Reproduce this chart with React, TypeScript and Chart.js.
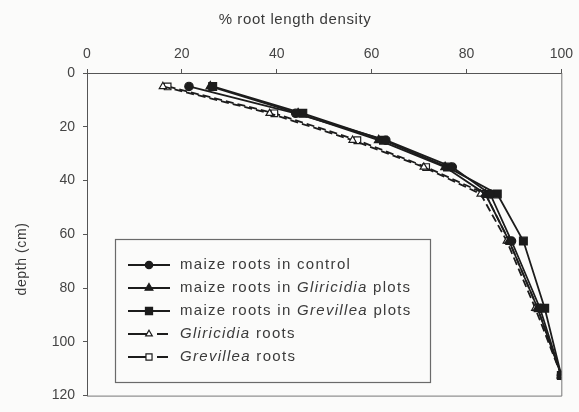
import React, { useEffect, useRef } from "react";
import { Chart, registerables } from "chart.js";
Chart.register(...registerables);

// depth (cm) of each sampled layer (mid-points)
const depths = [5, 15, 25, 35, 45, 62.5, 87.5, 112.5];
// % cumulative root length density
const maizeControl = [21.5, 44, 63, 77, 85, 89.5, 95.5, 100];
const maizeGliricidia = [26, 44.5, 61.5, 75.5, 84, 89, 95, 100];
const maizeGrevillea = [26.5, 45.5, 62.5, 76, 86.5, 92, 96.5, 100];
const gliricidiaRoots = [16, 38.5, 56, 71, 83, 88.5, 94.5, 100];
const grevilleaRoots = [17, 39.5, 57, 71.5, 84, 89, 95, 100];

const xTitle = "% root length density";
const yTitle = "depth (cm)";

type Part = { t: string; it: boolean };
const legendItems: { parts: Part[]; style: string; open: boolean; dashed: boolean }[] = [
  { parts: [{ t: "maize roots in control", it: false }], style: "circle", open: false, dashed: false },
  { parts: [{ t: "maize roots in ", it: false }, { t: "Gliricidia", it: true }, { t: " plots", it: false }], style: "triangle", open: false, dashed: false },
  { parts: [{ t: "maize roots in ", it: false }, { t: "Grevillea", it: true }, { t: " plots", it: false }], style: "rect", open: false, dashed: false },
  { parts: [{ t: "Gliricidia", it: true }, { t: " roots", it: false }], style: "triangle", open: true, dashed: true },
  { parts: [{ t: "Grevillea", it: true }, { t: " roots", it: false }], style: "rect", open: true, dashed: true },
];

const INK = "#1c1c1c";
const FONT = "'Liberation Sans', Arial, sans-serif";

function radiusFor(style: string) {
  if (style === "rect") return 5.5;
  if (style === "triangle") return 5;
  return 4.2;
}

export default function App() {
  const ref = useRef<HTMLCanvasElement | null>(null);
  useEffect(() => {
    if (!ref.current) return;
    const seriesValues = [maizeControl, maizeGliricidia, maizeGrevillea, gliricidiaRoots, grevilleaRoots];
    const datasets = seriesValues.map((vals, k) => {
      const li = legendItems[k];
      const r = radiusFor(li.style);
      return {
        label: li.parts.map((p) => p.t).join(""),
        data: depths.map((d, i) => ({ x: vals[i], y: d })),
        showLine: true,
        borderColor: INK,
        borderWidth: 1.8,
        borderDash: li.dashed ? [8, 4] : [],
        backgroundColor: li.open ? "#ffffff" : INK,
        pointStyle: li.style as any,
        pointRadius: li.open ? r - 0.8 : r,
        pointBorderColor: INK,
        pointBorderWidth: 1.2,
        pointBackgroundColor: li.open ? "#ffffff" : INK,
      };
    });

    const deco = {
      id: "deco",
      beforeDraw(chart: any) {
        const c = chart.ctx;
        c.save();
        c.fillStyle = "#fbfbfa";
        c.fillRect(0, 0, chart.width, chart.height);
        c.restore();
      },
      afterDraw(chart: any) {
        const c = chart.ctx as CanvasRenderingContext2D;
        const a = chart.chartArea;
        c.save();
        // box right & bottom
        c.strokeStyle = "#777";
        c.lineWidth = 1;
        c.beginPath();
        c.moveTo(a.right + 0.5, a.top);
        c.lineTo(a.right + 0.5, a.bottom + 0.5);
        c.lineTo(a.left, a.bottom + 0.5);
        c.stroke();
        // titles
        c.fillStyle = "#3a3a3a";
        c.font = `15px ${FONT}`;
        (c as any).letterSpacing = "0.6px";
        c.textAlign = "center";
        c.textBaseline = "middle";
        c.fillText(xTitle, 295, 20);
        c.save();
        c.translate(22, 259);
        c.rotate(-Math.PI / 2);
        c.font = `14px ${FONT}`;
        c.fillText(yTitle, 0, 0);
        c.restore();
        // legend box
        const bx = 115, by = 239, bw = 315, bh = 143;
        c.fillStyle = "#fbfbfa";
        c.fillRect(bx, by, bw, bh);
        c.strokeStyle = "#6a6a6a";
        c.lineWidth = 1.2;
        c.strokeRect(bx + 0.5, by + 0.5, bw, bh);
        legendItems.forEach((li, k) => {
          const y = 265 + k * 23;
          c.strokeStyle = INK;
          c.lineWidth = 1.8;
          c.setLineDash([]);
          c.beginPath();
          if (li.dashed) {
            c.moveTo(128, y); c.lineTo(150, y);
            c.moveTo(157, y); c.lineTo(168, y);
          } else {
            c.moveTo(128, y); c.lineTo(170, y);
          }
          c.stroke();
          const r = radiusFor(li.style) - (li.open ? 1.2 : 0.5);
          c.fillStyle = li.open ? "#ffffff" : INK;
          c.lineWidth = 1.2;
          c.beginPath();
          if (li.style === "circle") {
            c.arc(149, y, r, 0, Math.PI * 2);
          } else if (li.style === "rect") {
            const s = r * Math.SQRT1_2;
            c.rect(149 - s, y - s, 2 * s, 2 * s);
          } else {
            const h = r * 1.5;
            c.moveTo(149, y - r);
            c.lineTo(149 + r * 0.87, y + r * 0.5);
            c.lineTo(149 - r * 0.87, y + r * 0.5);
            c.closePath();
          }
          c.fill();
          c.stroke();
          let x = 180;
          c.fillStyle = "#3a3a3a";
          c.textAlign = "left";
          c.textBaseline = "middle";
          (c as any).letterSpacing = "1.3px";
          li.parts.forEach((p) => {
            c.font = `${p.it ? "italic " : ""}15px ${FONT}`;
            c.fillText(p.t, x, y);
            x += c.measureText(p.t).width;
          });
        });
        c.restore();
      },
    };

    const chart = new Chart(ref.current, {
      type: "scatter",
      data: { datasets: datasets as any },
      options: {
        animation: false,
        responsive: false,
        layout: { padding: { left: 0, top: 0, right: 12, bottom: 9 } },
        plugins: { legend: { display: false }, tooltip: { enabled: false }, title: { display: false } },
        scales: {
          x: {
            type: "linear",
            position: "top",
            min: 0,
            max: 100,
            ticks: { stepSize: 20, color: "#444", font: { size: 14, family: FONT }, padding: 6 },
            grid: { drawOnChartArea: false, drawTicks: true, tickLength: 4, color: "#555" },
            border: { color: "#555", width: 1 },
            afterFit: (s: any) => { s.height = 73; },
          },
          y: {
            type: "linear",
            reverse: true,
            min: 0,
            max: 120,
            ticks: { stepSize: 20, color: "#444", font: { size: 14, family: FONT }, padding: 8 },
            grid: { drawOnChartArea: false, drawTicks: true, tickLength: 4, color: "#555" },
            border: { color: "#555", width: 1 },
            afterFit: (s: any) => { s.width = 87; },
          },
        },
      },
      plugins: [deco],
    });
    return () => chart.destroy();
  }, []);

  return (
    <div style={{ position: "fixed", left: 0, top: 0, width: 579, height: 412 }}>
      <canvas ref={ref} width={579} height={412} style={{ display: "block" }} />
    </div>
  );
}
